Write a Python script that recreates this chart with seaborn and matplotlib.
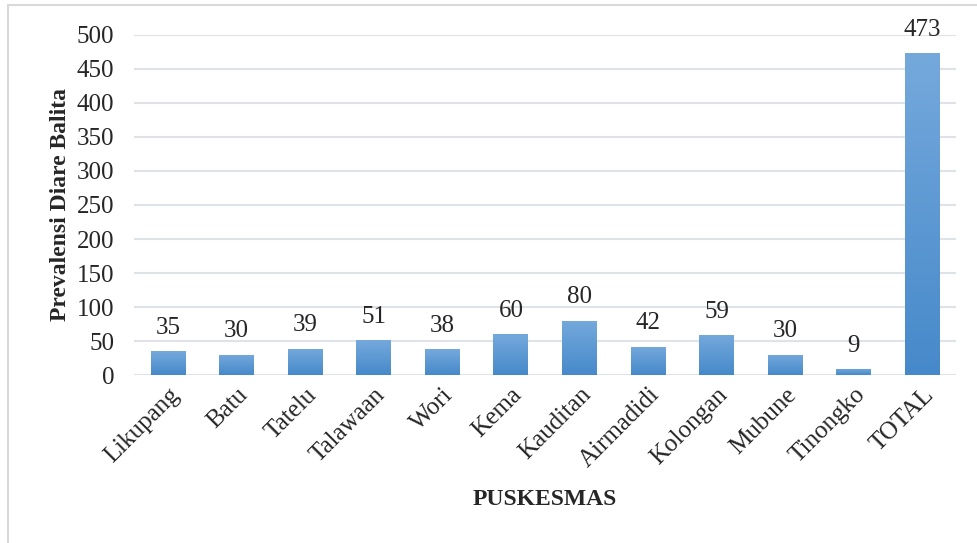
import matplotlib
matplotlib.use("Agg")
import matplotlib.pyplot as plt
import seaborn as sns
import pandas as pd
import numpy as np
from matplotlib.colors import LinearSegmentedColormap
from matplotlib.patches import Rectangle

# data
puskesmas = ['Likupang', 'Batu', 'Tatelu', 'Talawaan', 'Wori', 'Kema', 'Kauditan',
             'Airmadidi', 'Kolongan', 'Mubune', 'Tinongko', 'TOTAL']
prevalensi = [35, 30, 39, 51, 38, 60, 80, 42, 59, 30, 9, 473]

df = pd.DataFrame({'PUSKESMAS': puskesmas, 'Prevalensi': prevalensi})

sns.set_style('white')
plt.rcParams['font.family'] = ['Liberation Serif', 'DejaVu Serif']

fig = plt.figure(figsize=(9.77, 5.43), dpi=100)
ax = fig.add_axes([0.137, 0.309, 0.842, 0.627])

sns.barplot(data=df, x='PUSKESMAS', y='Prevalensi', color='#5B9BD5', width=0.51, ax=ax, zorder=3)

# gradient fill for each bar
cmap = LinearSegmentedColormap.from_list('grad', ['#4689CA', '#75A9DC'])
grad = np.linspace(0, 1, 256).reshape(-1, 1)
for bar in ax.patches:
    x0, y0 = bar.get_x(), bar.get_y()
    w, h = bar.get_width(), bar.get_height()
    im = ax.imshow(grad, extent=[x0, x0 + w, y0, y0 + h], origin='lower',
                   cmap=cmap, aspect='auto', zorder=4)
    im.set_clip_path(bar)
    bar.set_edgecolor('none')

ax.set_xlim(-0.5, len(puskesmas) - 0.5)
ax.set_ylim(0, 500)
ax.set_yticks(range(0, 501, 50))
ax.yaxis.grid(True, color='#DFE2E7', linewidth=1.5, zorder=0)
ax.set_axisbelow(True)
for s in ax.spines.values():
    s.set_visible(False)

# value labels
for i, v in enumerate(prevalensi):
    ax.annotate(str(v), (i, v), xytext=(0, 9), textcoords='offset points',
                ha='center', va='bottom', fontsize=18, annotation_clip=False)

ax.tick_params(axis='y', labelsize=18, length=0, pad=14)
ax.tick_params(axis='x', labelsize=18, length=0, pad=6)
plt.setp(ax.get_xticklabels(), rotation=45, ha='right', rotation_mode='anchor')

ax.set_xlabel('PUSKESMAS', fontsize=17, fontweight='bold', labelpad=12)
ax.set_ylabel('Prevalensi Diare Balita', fontsize=17, fontweight='bold', labelpad=4)

# figure border
fig.patches.append(Rectangle((8 / 977, -0.01), 2.0, 1 - 5 / 543 + 0.01, transform=fig.transFigure,
                             fill=False, edgecolor='#D9D9D9', linewidth=1.5))

fig.savefig('out.png', dpi=100)
